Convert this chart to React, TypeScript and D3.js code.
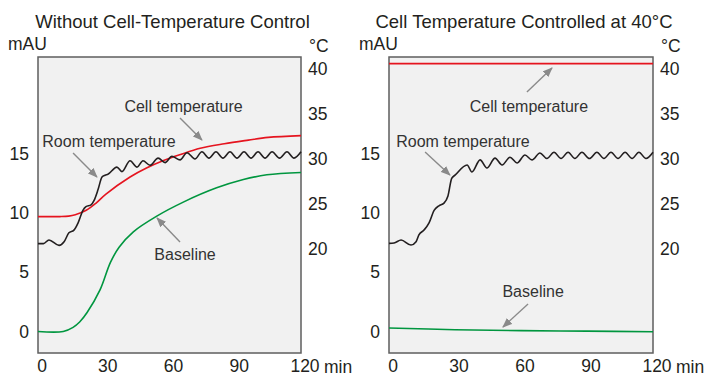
import React, { useRef, useEffect } from 'react'
import * as d3 from 'd3'

const minuteTicks = [0, 30, 60, 90, 120]
const mauTicks = [0, 5, 10, 15]
const degTicks = [20, 25, 30, 35, 40]

// [minute, °C]
const leftCellTemp = [[0, 23.6], [10, 23.6], [14, 23.65], [17, 23.8], [22, 24.3], [26.5, 25.1], [31, 26.1], [42, 28.0], [49.5, 29.0], [57, 29.8], [65, 30.5], [74, 31.2], [85, 31.7], [96, 32.1], [105, 32.4], [120, 32.6]]
// [minute, mAU]
const leftBaseline = [[0, 0], [11.5, 0], [16, 0.35], [19, 0.8], [22.4, 1.6], [28.3, 3.5], [33, 5.8], [37, 7.1], [43.5, 8.4], [54, 9.7], [66.3, 10.9], [81.5, 12.1], [93.7, 12.8], [104.4, 13.2], [120, 13.4]]
// [minute, °C]
const leftRoomTemp = [[0, 20.6], [2.5, 20.6], [5, 21.0], [9.6, 20.4], [11.9, 20.8], [14.1, 21.8], [16.4, 22.1], [18.3, 22.9], [20.5, 24.3], [21.9, 24.7], [24.2, 24.9], [25.6, 25.4], [27.4, 26.6], [29.2, 28.0], [30.6, 28.2], [31.9, 28.3], [36, 29.1], [38.3, 28.6], [42, 29.8], [45.2, 29.1], [47.9, 29.8], [51.1, 29.3], [54.8, 30.1], [58, 29.6], [61.1, 30.3], [64.8, 29.9], [68, 30.7], [71.6, 30.0], [74.8, 30.8], [78, 30.1], [81.2, 30.8], [84.4, 30.1], [87.6, 30.8], [90.8, 30.1], [94, 30.8], [97.2, 30.1], [100.4, 30.8], [103.6, 30.1], [106.8, 30.8], [110.2, 30.1], [113.6, 30.8], [116.8, 30.1], [120, 30.8]]

const rightCellTemp = [[0, 40.6], [120, 40.6]]
const rightBaseline = [[0, 0.3], [30, 0.15], [60, 0.07], [90, 0.03], [120, -0.02]]
const rightRoomTemp = [[0, 20.63], [2.3, 20.67], [5.5, 21.0], [10, 20.44], [12.3, 20.81], [13.6, 21.56], [15.9, 22.1], [18.2, 22.9], [20.5, 24.3], [22.7, 24.8], [25, 25.1], [26.8, 25.9], [28.5, 27.85], [30, 28.2], [35.5, 29.33], [37.7, 28.56], [41.4, 29.9], [44.5, 29.0], [48.2, 30.1], [51.4, 29.33], [55, 30.2], [58.2, 29.56], [61.8, 30.44], [65, 29.9], [68.6, 30.67], [71.8, 30.05], [75, 30.75], [78.2, 30.05], [81.4, 30.75], [84.5, 30.05], [87.7, 30.75], [91.1, 30.05], [94.5, 30.75], [97.7, 30.05], [100.9, 30.75], [104.1, 30.05], [107.3, 30.75], [110.5, 30.05], [113.6, 30.75], [116.8, 30.05], [120, 30.75]]

// callouts, in [minute, °C]
const leftNotes = [
  { label: 'Cell temperature', at: [66.4, 35.26], from: [64.8, 34.56], to: [74.8, 32.1] },
  { label: 'Room temperature', at: [32.4, 31.37], from: [16, 30.67], to: [26.9, 28.0] },
  { label: 'Baseline', at: [67.1, 18.78], from: [64.8, 20.78], to: [54.3, 23.44] },
]
const rightNotes = [
  { label: 'Cell temperature', at: [63.6, 35.26], from: [62.7, 37.44], to: [74.1, 40.11] },
  { label: 'Room temperature', at: [33.6, 31.37], from: [16.4, 30.78], to: [27.7, 28.22] },
  { label: 'Baseline', at: [65.5, 14.67], from: [63.2, 13.89], to: [51.8, 11.33] },
]

const panels = [
  { title: 'Without Cell-Temperature Control', x0: 38, x1: 301, cell: leftCellTemp, base: leftBaseline, room: leftRoomTemp, notes: leftNotes },
  { title: 'Cell Temperature Controlled at 40°C', x0: 389, x1: 653, cell: rightCellTemp, base: rightBaseline, room: rightRoomTemp, notes: rightNotes },
]

const W = 705
const H = 376
const top = 57
const bottom = 353
const font = "'Liberation Sans', Arial, sans-serif"
const ink = '#231f20'

export default function App() {
  const visEl = useRef(null)

  useEffect(() => {
    const svg = d3.select(visEl.current)
    svg.selectAll('*').remove()

    const defs = svg.append('defs')
    defs.append('marker')
      .attr('id', 'head')
      .attr('viewBox', '0 0 10 8')
      .attr('refX', 9)
      .attr('refY', 4)
      .attr('markerWidth', 10)
      .attr('markerHeight', 8)
      .attr('markerUnits', 'userSpaceOnUse')
      .attr('orient', 'auto')
      .append('path')
      .attr('d', 'M0,0 L10,4 L0,8 Z')
      .attr('fill', '#8a8a8a')

    panels.forEach(p => {
      const x = d3.scaleLinear().domain([0, 120]).range([p.x0, p.x1])
      const yMau = d3.scaleLinear().domain([-1.811, 23.125]).range([bottom, top])
      const yDeg = d3.scaleLinear().domain([8.444, 41.333]).range([bottom, top])

      const g = svg.append('g')

      g.append('rect')
        .attr('x', p.x0).attr('y', top)
        .attr('width', p.x1 - p.x0).attr('height', bottom - top)
        .attr('fill', '#f1f1f1')
        .attr('stroke', '#5e5e5e')
        .attr('stroke-width', 1.5)

      // axes
      const xAxisG = g.append('g')
        .attr('transform', `translate(3.5,${bottom})`)
        .call(d3.axisBottom(x).tickValues(minuteTicks).tickSize(0).tickPadding(7))
      const yLeftG = g.append('g')
        .attr('transform', `translate(${p.x0},0)`)
        .call(d3.axisLeft(yMau).tickValues(mauTicks).tickSize(0).tickPadding(9))
      const yRightG = g.append('g')
        .attr('transform', `translate(${p.x1},0)`)
        .call(d3.axisRight(yDeg).tickValues(degTicks).tickSize(0).tickPadding(7))
      ;[xAxisG, yLeftG, yRightG].forEach(a => {
        a.select('.domain').remove()
        a.selectAll('text')
          .attr('font-family', font)
          .attr('font-size', 17.5)
          .attr('fill', ink)
      })

      g.append('text')
        .attr('x', x(120) + 23).attr('y', 372.5)
        .attr('font-family', font).attr('font-size', 17.5).attr('fill', ink)
        .text('min')

      g.append('text')
        .attr('x', p.x0 - 30).attr('y', 50)
        .attr('font-family', font).attr('font-size', 17.5).attr('fill', ink)
        .text('mAU')
      g.append('text')
        .attr('x', p.x1 + 8).attr('y', 52)
        .attr('font-family', font).attr('font-size', 17.5).attr('fill', ink)
        .text('°C')

      g.append('text')
        .attr('x', (p.x0 + p.x1) / 2 + 3).attr('y', 28)
        .attr('text-anchor', 'middle')
        .attr('font-family', font).attr('font-size', 18.5).attr('fill', ink)
        .text(p.title)

      const smooth = d3.curveCatmullRom.alpha(0.5)
      const lineDeg = d3.line().x(d => x(d[0])).y(d => yDeg(d[1]))
      const lineMau = d3.line().x(d => x(d[0])).y(d => yMau(d[1])).curve(smooth)

      g.append('path')
        .attr('d', lineMau(p.base))
        .attr('fill', 'none').attr('stroke', '#00963f').attr('stroke-width', 1.6)
      g.append('path')
        .attr('d', lineDeg.curve(smooth)(p.cell))
        .attr('fill', 'none').attr('stroke', '#e5141f').attr('stroke-width', 1.6)
      g.append('path')
        .attr('d', lineDeg.curve(d3.curveMonotoneX)(p.room))
        .attr('fill', 'none').attr('stroke', ink).attr('stroke-width', 1.6)

      p.notes.forEach(n => {
        g.append('line')
          .attr('x1', x(n.from[0])).attr('y1', yDeg(n.from[1]))
          .attr('x2', x(n.to[0])).attr('y2', yDeg(n.to[1]))
          .attr('stroke', '#8a8a8a').attr('stroke-width', 1.4)
          .attr('marker-end', 'url(#head)')
        g.append('text')
          .attr('x', x(n.at[0])).attr('y', yDeg(n.at[1]))
          .attr('text-anchor', 'middle')
          .attr('font-family', font).attr('font-size', 16).attr('fill', '#333')
          .text(n.label)
      })
    })
  })

  return (
    <div style={{ position: 'absolute', left: 0, top: 0, background: '#fff' }}>
      <svg ref={visEl} width={W} height={H} style={{ display: 'block' }}></svg>
    </div>
  )
}
